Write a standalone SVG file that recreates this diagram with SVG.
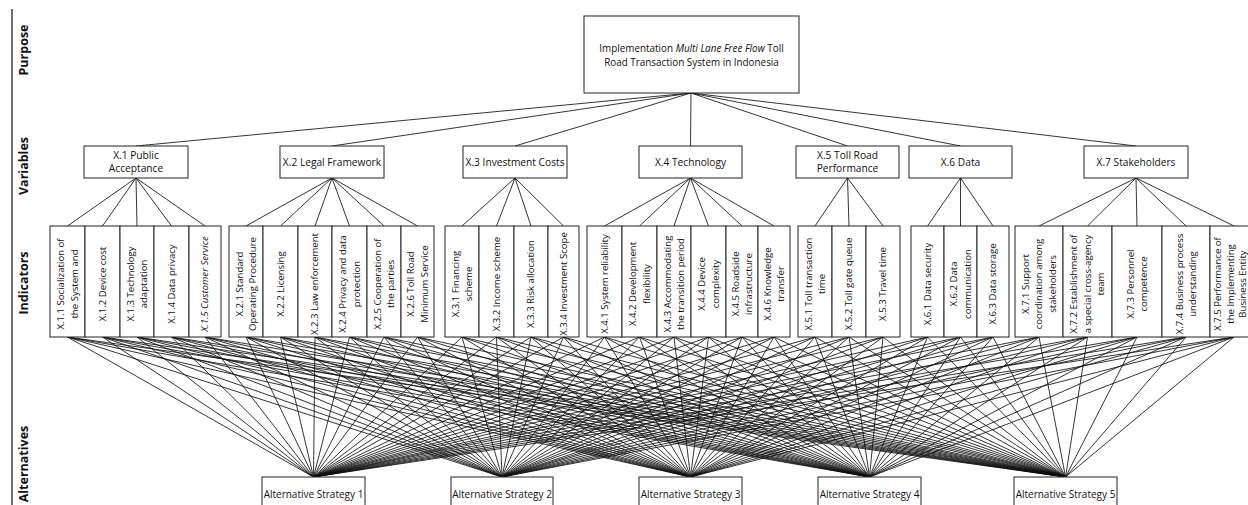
<svg xmlns="http://www.w3.org/2000/svg" width="1248" height="505" viewBox="0 0 1248 505">
<style>
.bg{fill:#fff}
.box{fill:#fff;stroke:#222;stroke-width:1}
.lbl{font-family:"Open Sans","Liberation Sans",sans-serif;font-weight:bold;font-size:12.5px;fill:#111}
.t{font-family:"Open Sans","Liberation Sans",sans-serif;font-size:9.9px;fill:#111;text-anchor:middle}
.v{font-family:"Open Sans","Liberation Sans",sans-serif;font-size:10.2px;fill:#111;text-anchor:middle}
.it{font-family:"Open Sans","Liberation Sans",sans-serif;font-size:9.6px;fill:#111;text-anchor:middle}
.alt{font-family:"Open Sans","Liberation Sans",sans-serif;font-size:10px;fill:#111;text-anchor:middle}
.c line,.c path{stroke:#111;stroke-width:0.85;fill:none}
</style>
<rect class="bg" x="0" y="0" width="1248" height="505"/>
<!-- side labels -->
<g id="side">
<line x1="12" y1="9" x2="12" y2="505" stroke="#111" stroke-width="1.2"/>
<text class="lbl" transform="translate(24,50) rotate(-90)" text-anchor="middle" dy="0.35em">Purpose</text>
<text class="lbl" transform="translate(24,166) rotate(-90)" text-anchor="middle" dy="0.35em">Variables</text>
<text class="lbl" transform="translate(24,283) rotate(-90)" text-anchor="middle" dy="0.35em">Indicators</text>
<text class="lbl" transform="translate(24,464) rotate(-90)" text-anchor="middle" dy="0.35em">Alternatives</text>
</g>
<!-- connectors -->
<g id="connectors" class="c">
<g id="purpose-variables">
<line x1="691" y1="93" x2="136" y2="146"/>
<line x1="691" y1="93" x2="332" y2="146"/>
<line x1="691" y1="93" x2="515" y2="146"/>
<line x1="691" y1="93" x2="690.5" y2="146"/>
<line x1="691" y1="93" x2="847.5" y2="146"/>
<line x1="691" y1="93" x2="960.5" y2="146"/>
<line x1="691" y1="93" x2="1136" y2="146"/>
</g>
<g id="variables-indicators">
<path d="M136 178L67.5 226M136 178L102.5 226M136 178L137 226M136 178L171.5 226M136 178L205 226"/>
<path d="M332 178L246 226M332 178L280.5 226M332 178L315 226M332 178L349.5 226M332 178L384 226M332 178L417.5 226"/>
<path d="M515 178L462 226M515 178L496.5 226M515 178L531 226M515 178L563.5 226"/>
<path d="M690.5 178L604.5 226M690.5 178L639.5 226M690.5 178L674 226M690.5 178L708.5 226M690.5 178L742 226M690.5 178L774 226"/>
<path d="M847.5 178L815 226M847.5 178L849 226M847.5 178L883 226"/>
<path d="M960.5 178L927.5 226M960.5 178L960.5 226M960.5 178L993 226"/>
<path d="M1136 178L1039 226M1136 178L1087.5 226M1136 178L1137 226M1136 178L1186 226M1136 178L1234 226"/>
</g>
<g id="indicators-alternatives">
<path d="M67.5 337L313.5 477M67.5 337L502 477M67.5 337L690.5 477M67.5 337L869.5 477M67.5 337L1065.5 477"/>
<path d="M102.5 337L313.5 477M102.5 337L502 477M102.5 337L690.5 477M102.5 337L869.5 477M102.5 337L1065.5 477"/>
<path d="M137 337L313.5 477M137 337L502 477M137 337L690.5 477M137 337L869.5 477M137 337L1065.5 477"/>
<path d="M171.5 337L313.5 477M171.5 337L502 477M171.5 337L690.5 477M171.5 337L869.5 477M171.5 337L1065.5 477"/>
<path d="M205 337L313.5 477M205 337L502 477M205 337L690.5 477M205 337L869.5 477M205 337L1065.5 477"/>
<path d="M246 337L313.5 477M246 337L502 477M246 337L690.5 477M246 337L869.5 477M246 337L1065.5 477"/>
<path d="M280.5 337L313.5 477M280.5 337L502 477M280.5 337L690.5 477M280.5 337L869.5 477M280.5 337L1065.5 477"/>
<path d="M315 337L313.5 477M315 337L502 477M315 337L690.5 477M315 337L869.5 477M315 337L1065.5 477"/>
<path d="M349.5 337L313.5 477M349.5 337L502 477M349.5 337L690.5 477M349.5 337L869.5 477M349.5 337L1065.5 477"/>
<path d="M384 337L313.5 477M384 337L502 477M384 337L690.5 477M384 337L869.5 477M384 337L1065.5 477"/>
<path d="M417.5 337L313.5 477M417.5 337L502 477M417.5 337L690.5 477M417.5 337L869.5 477M417.5 337L1065.5 477"/>
<path d="M462 337L313.5 477M462 337L502 477M462 337L690.5 477M462 337L869.5 477M462 337L1065.5 477"/>
<path d="M496.5 337L313.5 477M496.5 337L502 477M496.5 337L690.5 477M496.5 337L869.5 477M496.5 337L1065.5 477"/>
<path d="M531 337L313.5 477M531 337L502 477M531 337L690.5 477M531 337L869.5 477M531 337L1065.5 477"/>
<path d="M563.5 337L313.5 477M563.5 337L502 477M563.5 337L690.5 477M563.5 337L869.5 477M563.5 337L1065.5 477"/>
<path d="M604.5 337L313.5 477M604.5 337L502 477M604.5 337L690.5 477M604.5 337L869.5 477M604.5 337L1065.5 477"/>
<path d="M639.5 337L313.5 477M639.5 337L502 477M639.5 337L690.5 477M639.5 337L869.5 477M639.5 337L1065.5 477"/>
<path d="M674 337L313.5 477M674 337L502 477M674 337L690.5 477M674 337L869.5 477M674 337L1065.5 477"/>
<path d="M708.5 337L313.5 477M708.5 337L502 477M708.5 337L690.5 477M708.5 337L869.5 477M708.5 337L1065.5 477"/>
<path d="M742 337L313.5 477M742 337L502 477M742 337L690.5 477M742 337L869.5 477M742 337L1065.5 477"/>
<path d="M774 337L313.5 477M774 337L502 477M774 337L690.5 477M774 337L869.5 477M774 337L1065.5 477"/>
<path d="M815 337L313.5 477M815 337L502 477M815 337L690.5 477M815 337L869.5 477M815 337L1065.5 477"/>
<path d="M849 337L313.5 477M849 337L502 477M849 337L690.5 477M849 337L869.5 477M849 337L1065.5 477"/>
<path d="M883 337L313.5 477M883 337L502 477M883 337L690.5 477M883 337L869.5 477M883 337L1065.5 477"/>
<path d="M927.5 337L313.5 477M927.5 337L502 477M927.5 337L690.5 477M927.5 337L869.5 477M927.5 337L1065.5 477"/>
<path d="M960.5 337L313.5 477M960.5 337L502 477M960.5 337L690.5 477M960.5 337L869.5 477M960.5 337L1065.5 477"/>
<path d="M993 337L313.5 477M993 337L502 477M993 337L690.5 477M993 337L869.5 477M993 337L1065.5 477"/>
<path d="M1039 337L313.5 477M1039 337L502 477M1039 337L690.5 477M1039 337L869.5 477M1039 337L1065.5 477"/>
<path d="M1087.5 337L313.5 477M1087.5 337L502 477M1087.5 337L690.5 477M1087.5 337L869.5 477M1087.5 337L1065.5 477"/>
<path d="M1137 337L313.5 477M1137 337L502 477M1137 337L690.5 477M1137 337L869.5 477M1137 337L1065.5 477"/>
<path d="M1186 337L313.5 477M1186 337L502 477M1186 337L690.5 477M1186 337L869.5 477M1186 337L1065.5 477"/>
<path d="M1234 337L313.5 477M1234 337L502 477M1234 337L690.5 477M1234 337L869.5 477M1234 337L1065.5 477"/>
</g>
</g>
<!-- purpose -->
<g id="purpose">
<rect class="box" x="584" y="16" width="215" height="77"/>
<text class="t" x="691.5" y="51.5">Implementation <tspan font-style="italic">Multi Lane Free Flow</tspan> Toll</text>
<text class="t" x="691.5" y="65.5">Road Transaction System in Indonesia</text>
</g>
<!-- variables -->
<g id="X1"><rect class="box" x="84" y="146" width="104" height="32"/><text class="v" x="136" y="159">X.1 Public</text><text class="v" x="136" y="172">Acceptance</text></g>
<g id="X2"><rect class="box" x="280" y="146" width="104" height="32"/><text class="v" x="332" y="165.5">X.2 Legal Framework</text></g>
<g id="X3"><rect class="box" x="463" y="146" width="104" height="32"/><text class="v" x="515" y="165.5">X.3 Investment Costs</text></g>
<g id="X4"><rect class="box" x="639" y="146" width="103" height="32"/><text class="v" x="690.5" y="165.5">X.4 Technology</text></g>
<g id="X5"><rect class="box" x="796" y="146" width="103" height="32"/><text class="v" x="847.5" y="159">X.5 Toll Road</text><text class="v" x="847.5" y="172">Performance</text></g>
<g id="X6"><rect class="box" x="909" y="146" width="103" height="32"/><text class="v" x="960.5" y="165.5">X.6 Data</text></g>
<g id="X7"><rect class="box" x="1084" y="146" width="104" height="32"/><text class="v" x="1136" y="165.5">X.7 Stakeholders</text></g>
<!-- indicators -->
<g id="X11"><rect class="box" x="50" y="226" width="35" height="111"/><text class="it" transform="translate(67.5,284) rotate(-90)"><tspan x="0" y="-3.5">X.1.1 Socialization of</tspan><tspan x="0" y="10">the System and</tspan></text></g>
<g id="X12"><rect class="box" x="85" y="226" width="35" height="111"/><text class="it" transform="translate(102.5,284) rotate(-90)"><tspan x="0" y="3.3">X.1.2 Device cost</tspan></text></g>
<g id="X13"><rect class="box" x="120" y="226" width="34" height="111"/><text class="it" transform="translate(137,284) rotate(-90)"><tspan x="0" y="-3.5">X.1.3 Technology</tspan><tspan x="0" y="10">adaptation</tspan></text></g>
<g id="X14"><rect class="box" x="154" y="226" width="35" height="111"/><text class="it" transform="translate(171.5,284) rotate(-90)"><tspan x="0" y="3.3">X.1.4 Data privacy</tspan></text></g>
<g id="X15"><rect class="box" x="189" y="226" width="32" height="111"/><text class="it" transform="translate(205,284) rotate(-90)" font-style="italic"><tspan x="0" y="3.3">X.1.5 Customer Service</tspan></text></g>
<g id="X21"><rect class="box" x="229" y="226" width="34" height="111"/><text class="it" transform="translate(246,284) rotate(-90)"><tspan x="0" y="-3.5">X.2.1 Standard</tspan><tspan x="0" y="10">Operating Procedure</tspan></text></g>
<g id="X22"><rect class="box" x="263" y="226" width="35" height="111"/><text class="it" transform="translate(280.5,284) rotate(-90)"><tspan x="0" y="3.3">X.2.2 Licensing</tspan></text></g>
<g id="X23"><rect class="box" x="298" y="226" width="34" height="111"/><text class="it" transform="translate(315,284) rotate(-90)"><tspan x="0" y="3.3">X.2.3 Law enforcement</tspan></text></g>
<g id="X24"><rect class="box" x="332" y="226" width="35" height="111"/><text class="it" transform="translate(349.5,284) rotate(-90)"><tspan x="0" y="-3.5">X.2.4 Privacy and data</tspan><tspan x="0" y="10">protection</tspan></text></g>
<g id="X25"><rect class="box" x="367" y="226" width="34" height="111"/><text class="it" transform="translate(384,284) rotate(-90)"><tspan x="0" y="-3.5">X.2.5 Cooperation of</tspan><tspan x="0" y="10">the parties</tspan></text></g>
<g id="X26"><rect class="box" x="401" y="226" width="33" height="111"/><text class="it" transform="translate(417.5,284) rotate(-90)"><tspan x="0" y="-3.5">X.2.6 Toll Road</tspan><tspan x="0" y="10">Minimum Service</tspan></text></g>
<g id="X31"><rect class="box" x="445" y="226" width="34" height="111"/><text class="it" transform="translate(462,284) rotate(-90)"><tspan x="0" y="-3.5">X.3.1 Financing</tspan><tspan x="0" y="10">scheme</tspan></text></g>
<g id="X32"><rect class="box" x="479" y="226" width="35" height="111"/><text class="it" transform="translate(496.5,284) rotate(-90)"><tspan x="0" y="3.3">X.3.2 Income scheme</tspan></text></g>
<g id="X33"><rect class="box" x="514" y="226" width="34" height="111"/><text class="it" transform="translate(531,284) rotate(-90)"><tspan x="0" y="3.3">X.3.3 Risk allocation</tspan></text></g>
<g id="X34"><rect class="box" x="548" y="226" width="31" height="111"/><text class="it" transform="translate(563.5,284) rotate(-90)"><tspan x="0" y="3.3">X.3.4 Investment Scope</tspan></text></g>
<g id="X41"><rect class="box" x="587" y="226" width="35" height="111"/><text class="it" transform="translate(604.5,284) rotate(-90)"><tspan x="0" y="3.3">X.4.1 System reliability</tspan></text></g>
<g id="X42"><rect class="box" x="622" y="226" width="35" height="111"/><text class="it" transform="translate(639.5,284) rotate(-90)"><tspan x="0" y="-3.5">X.4.2 Development</tspan><tspan x="0" y="10">flexibility</tspan></text></g>
<g id="X43"><rect class="box" x="657" y="226" width="34" height="111"/><text class="it" transform="translate(674,284) rotate(-90)"><tspan x="0" y="-3.5">X.4.3 Accommodating</tspan><tspan x="0" y="10">the transition period</tspan></text></g>
<g id="X44"><rect class="box" x="691" y="226" width="35" height="111"/><text class="it" transform="translate(708.5,284) rotate(-90)"><tspan x="0" y="-3.5">X.4.4 Device</tspan><tspan x="0" y="10">complexity</tspan></text></g>
<g id="X45"><rect class="box" x="726" y="226" width="32" height="111"/><text class="it" transform="translate(742,284) rotate(-90)"><tspan x="0" y="-3.5">X.4.5 Roadside</tspan><tspan x="0" y="10">infrastructure</tspan></text></g>
<g id="X46"><rect class="box" x="758" y="226" width="32" height="111"/><text class="it" transform="translate(774,284) rotate(-90)"><tspan x="0" y="-3.5">X.4.6 Knowledge</tspan><tspan x="0" y="10">transfer</tspan></text></g>
<g id="X51"><rect class="box" x="798" y="226" width="34" height="111"/><text class="it" transform="translate(815,284) rotate(-90)"><tspan x="0" y="-3.5">X.5.1 Toll transaction</tspan><tspan x="0" y="10">time</tspan></text></g>
<g id="X52"><rect class="box" x="832" y="226" width="34" height="111"/><text class="it" transform="translate(849,284) rotate(-90)"><tspan x="0" y="3.3">X.5.2 Toll gate queue</tspan></text></g>
<g id="X53"><rect class="box" x="866" y="226" width="34" height="111"/><text class="it" transform="translate(883,284) rotate(-90)"><tspan x="0" y="3.3">X.5.3 Travel time</tspan></text></g>
<g id="X61"><rect class="box" x="911" y="226" width="33" height="111"/><text class="it" transform="translate(927.5,284) rotate(-90)"><tspan x="0" y="3.3">X.6.1 Data security</tspan></text></g>
<g id="X62"><rect class="box" x="944" y="226" width="33" height="111"/><text class="it" transform="translate(960.5,284) rotate(-90)"><tspan x="0" y="-3.5">X.6.2 Data</tspan><tspan x="0" y="10">communication</tspan></text></g>
<g id="X63"><rect class="box" x="977" y="226" width="32" height="111"/><text class="it" transform="translate(993,284) rotate(-90)"><tspan x="0" y="3.3">X.6.3 Data storage</tspan></text></g>
<g id="X71"><rect class="box" x="1015" y="226" width="48" height="111"/><text class="it" transform="translate(1039,284) rotate(-90)"><tspan x="0" y="-10.3">X.7.1 Support</tspan><tspan x="0" y="3.3">coordination among</tspan><tspan x="0" y="16.9">stakeholders</tspan></text></g>
<g id="X72"><rect class="box" x="1063" y="226" width="49" height="111"/><text class="it" transform="translate(1087.5,284) rotate(-90)"><tspan x="0" y="-10.3">X.7.2 Establishment of</tspan><tspan x="0" y="3.3">a special cross-agency</tspan><tspan x="0" y="16.9">team</tspan></text></g>
<g id="X73"><rect class="box" x="1112" y="226" width="50" height="111"/><text class="it" transform="translate(1137,284) rotate(-90)"><tspan x="0" y="-3.5">X.7.3 Personnel</tspan><tspan x="0" y="10">competence</tspan></text></g>
<g id="X74"><rect class="box" x="1162" y="226" width="48" height="111"/><text class="it" transform="translate(1186,284) rotate(-90)"><tspan x="0" y="-3.5">X.7.4 Business process</tspan><tspan x="0" y="10">understanding</tspan></text></g>
<g id="X75"><rect class="box" x="1210" y="226" width="48" height="111"/><text class="it" transform="translate(1231,284) rotate(-90)"><tspan x="0" y="-10.3">X.7.5 Performance of</tspan><tspan x="0" y="2.5">the Implementing</tspan><tspan x="0" y="15.3">Business Entity</tspan></text></g>
<!-- alternatives -->
<g id="A1"><rect class="box" x="262" y="477" width="103" height="40"/><text class="alt" x="313.5" y="497.5">Alternative Strategy 1</text></g>
<g id="A2"><rect class="box" x="451" y="477" width="102" height="40"/><text class="alt" x="502" y="497.5">Alternative Strategy 2</text></g>
<g id="A3"><rect class="box" x="639" y="477" width="103" height="40"/><text class="alt" x="690.5" y="497.5">Alternative Strategy 3</text></g>
<g id="A4"><rect class="box" x="818" y="477" width="103" height="40"/><text class="alt" x="869.5" y="497.5">Alternative Strategy 4</text></g>
<g id="A5"><rect class="box" x="1014" y="477" width="103" height="40"/><text class="alt" x="1065.5" y="497.5">Alternative Strategy 5</text></g>
</svg>
